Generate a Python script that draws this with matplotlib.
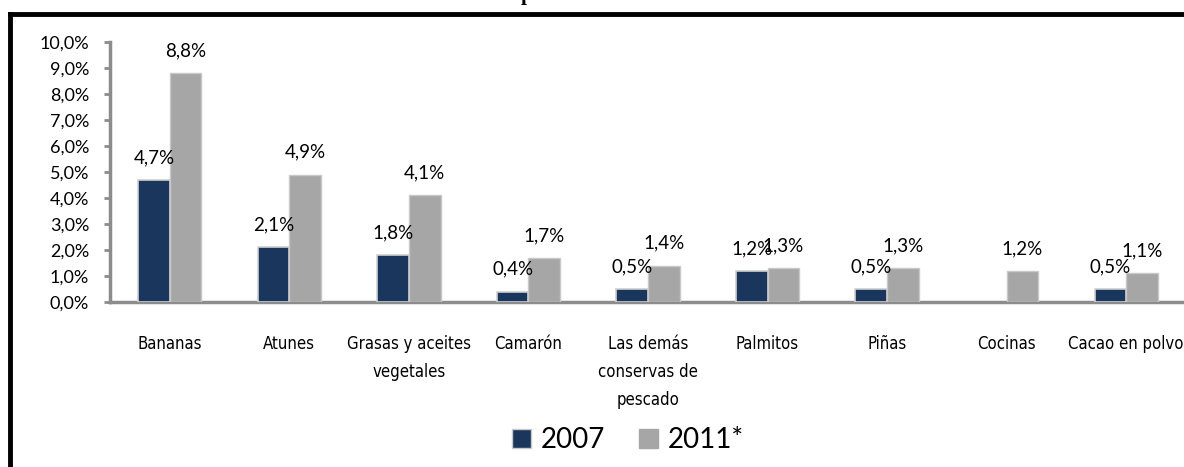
import matplotlib
matplotlib.use("Agg")
import matplotlib.pyplot as plt
from matplotlib.lines import Line2D
from matplotlib.patches import Rectangle
from matplotlib import font_manager
import numpy as np
import os

categories = ["Bananas", "Atunes", "Grasas y aceites\nvegetales", "Camarón",
              "Las demás\nconservas de\npescado", "Palmitos", "Piñas", "Cocinas",
              "Cacao en polvo"]
values_2007 = [4.7, 2.1, 1.8, 0.4, 0.5, 1.2, 0.5, np.nan, 0.5]
values_2011 = [8.8, 4.9, 4.1, 1.7, 1.4, 1.3, 1.3, 1.2, 1.1]
series_labels = ["2007", "2011*"]
yticks = [0, 1, 2, 3, 4, 5, 6, 7, 8, 9, 10]

navy = "#1b365d"
gray = "#a6a6a6"
axis_gray = "#8c8c8c"

num_font = ["Lato", "DejaVu Sans"]

cond_path = "/usr/share/fonts/truetype/dejavu/DejaVuSansCondensed.ttf"
if os.path.exists(cond_path):
    cat_prop = font_manager.FontProperties(fname=cond_path, size=12)
else:
    cat_prop = font_manager.FontProperties(family="DejaVu Sans", stretch="condensed", size=12)

W, H = 1184, 467
fig = plt.figure(figsize=(W / 100, H / 100), dpi=100)
fig.patch.set_facecolor("white")

ax = fig.add_axes([110 / W, (H - 302) / H, 1076 / W, 260 / H])
x = np.arange(len(categories))
bw = 0.265

ax.bar(x - bw / 2, values_2007, bw, color=navy, edgecolor="#d0d0d0", linewidth=1.2,
       label=series_labels[0], zorder=3)
ax.bar(x + bw / 2, values_2011, bw, color=gray, edgecolor="#c8c8c8", linewidth=1.0,
       label=series_labels[1], zorder=3)

def fmt(v):
    return ("%.1f%%" % v).replace(".", ",")

for xi, v in zip(x, values_2007):
    if not np.isnan(v):
        ax.annotate(fmt(v), (xi - bw / 2, v), xytext=(0, 10), textcoords="offset points",
                    ha="center", va="bottom", fontsize=13.5, family=num_font, color="black")
for xi, v in zip(x, values_2011):
    ax.annotate(fmt(v), (xi + bw / 2, v), xytext=(0, 10), textcoords="offset points",
                ha="center", va="bottom", fontsize=13.5, family=num_font, color="black")

ax.set_xlim(-0.5, len(categories) - 0.5)
ax.set_ylim(0, 10)
ax.set_yticks(yticks)
ax.set_yticklabels([fmt(t) for t in yticks], family=num_font, fontsize=13)
ax.tick_params(axis="y", direction="out", length=4, width=2, color=axis_gray, pad=11)
ax.set_xticks(x)
lbls = ax.set_xticklabels(categories, va="top")
for t in lbls:
    t.set_fontproperties(cat_prop)
    t.set_linespacing(1.72)
ax.tick_params(axis="x", length=0, pad=24)

for s in ["top", "right"]:
    ax.spines[s].set_visible(False)
ax.spines["left"].set_color(axis_gray)
ax.spines["left"].set_linewidth(2.5)
ax.spines["bottom"].set_color(axis_gray)
ax.spines["bottom"].set_linewidth(2.5)

fig.legend(handles=[Rectangle((0, 0), 1, 1, facecolor=navy, edgecolor="#c8c8c8"),
                    Rectangle((0, 0), 1, 1, facecolor=gray, edgecolor=gray)],
           labels=series_labels, loc="center", bbox_to_anchor=(628 / W, 1 - 440 / H),
           ncol=2, frameon=False, prop={"family": num_font, "size": 20},
           handlelength=0.7, handleheight=0.7, handletextpad=0.35,
           columnspacing=1.2)

fig.add_artist(Line2D([10 / W, 1.0], [1 - 14 / H, 1 - 14 / H], color="black", lw=3.5,
                      transform=fig.transFigure))
fig.add_artist(Line2D([10 / W, 10 / W], [0, 1 - 14 / H], color="black", lw=3.5,
                      transform=fig.transFigure))

fig.text(527 / W, 1.0, "p", ha="center", va="baseline", fontsize=15,
         family=["Liberation Serif", "DejaVu Serif"], weight="bold")

fig.savefig("out.png", dpi=100)
